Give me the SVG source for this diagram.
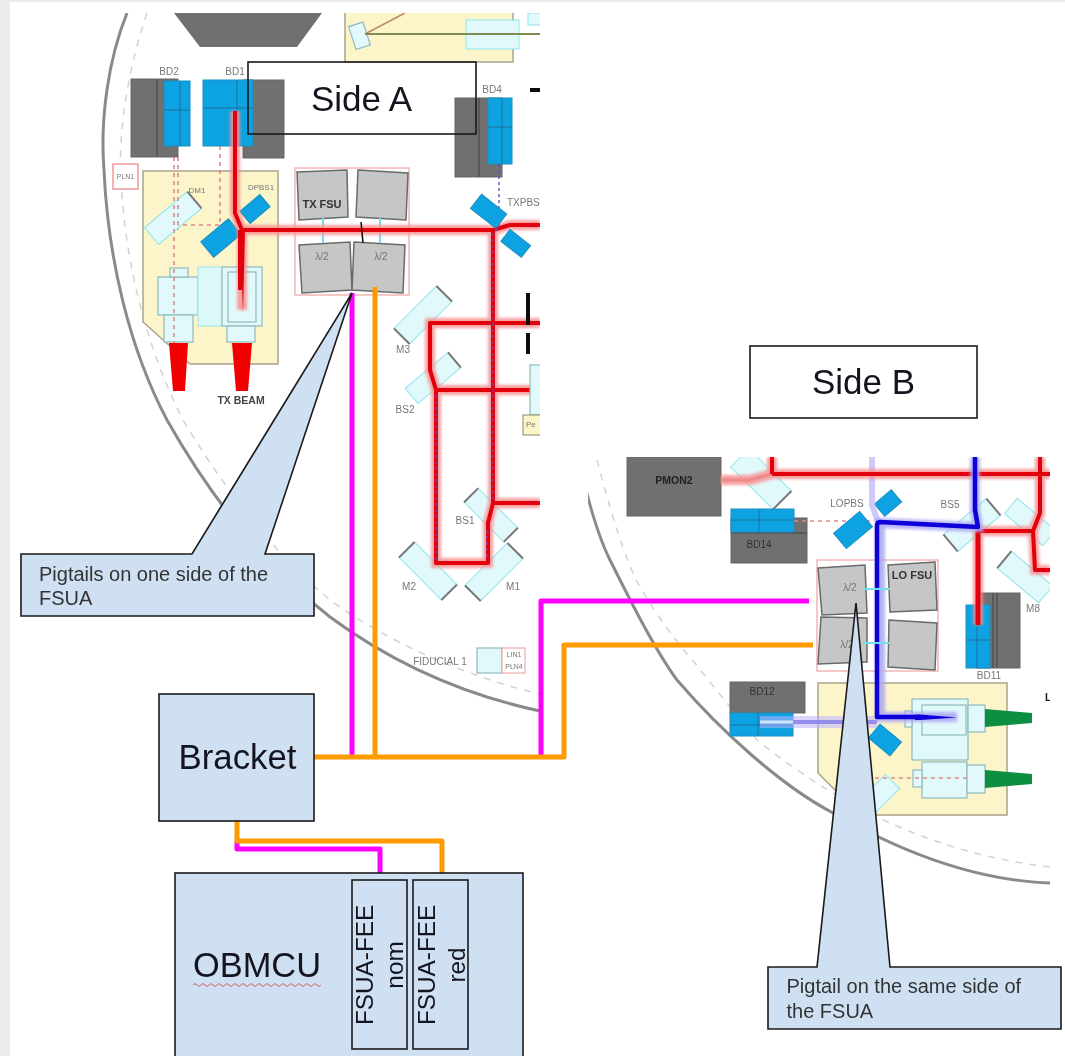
<svg xmlns="http://www.w3.org/2000/svg" width="1065" height="1056" viewBox="0 0 1065 1056">
<style>
.sans{font-family:"Liberation Sans",Arial,sans-serif}
.lb{font-family:"Liberation Sans",Arial,sans-serif;font-size:10px;fill:#777;text-anchor:middle;dominant-baseline:middle}
.lbd{font-family:"Liberation Sans",Arial,sans-serif;font-size:10.5px;font-weight:bold;fill:#444;text-anchor:middle;dominant-baseline:middle}
.dk{fill:#6f6f6f;stroke:#666;stroke-width:1}
.bl{fill:#0aa3e2;stroke:#1b8fc0;stroke-width:1}
.bll{fill:none;stroke:#1a6f9a;stroke-width:1}
.cr{fill:#fdf5ca;stroke:#a8a48c;stroke-width:1.5}
.pc{fill:#e2f9fb;stroke:#8fb9bd;stroke-width:1.2}
.mir{fill:#e2f9fb;stroke:#8ee6ee;stroke-width:1}
.cap{fill:none;stroke:#777;stroke-width:2}
.gy{fill:#c6c6c6;stroke:#6a6a6a;stroke-width:1.5}
.pr{fill:none;stroke:#f3b5b5;stroke-width:1.5}
.cy{fill:none;stroke:#6fe0ea;stroke-width:2}
.gr{fill:none;stroke:#8a8a8a;stroke-width:3}
.ds{fill:none;stroke:#d2d2d2;stroke-width:1.5;stroke-dasharray:7 7}
.rg{fill:none;stroke:#f78f8f;stroke-width:10;opacity:.85;filter:url(#glow)}
.r{fill:none;stroke:#e2000f;stroke-width:4;stroke-linejoin:round}
.bg{fill:none;stroke:#a9a6f5;stroke-width:10;opacity:.85;filter:url(#glow)}
.b{fill:none;stroke:#0a00d8;stroke-width:4.5;stroke-linejoin:round}
.pd{fill:none;stroke:#d88a8a;stroke-width:1.6;stroke-dasharray:4 4}
.bd{fill:none;stroke:#5a50c8;stroke-width:1.4;stroke-dasharray:3 3}
.box{fill:#cfe0f2;stroke:#1a1a1a;stroke-width:1.6}
.out{fill:none;stroke:#1a1a1a;stroke-width:1.6}
.m{fill:none;stroke:#ff00ff;stroke-width:5;stroke-linejoin:round}
.o{fill:none;stroke:#ff9a00;stroke-width:5;stroke-linejoin:round}
.cal{font-size:20px;fill:#333}
.big{fill:#14141e}
</style>
<defs>
<filter id="soft" x="-5%" y="-5%" width="110%" height="110%"><feGaussianBlur stdDeviation="0.7"/></filter>
<filter id="glow" x="-20%" y="-20%" width="140%" height="140%"><feGaussianBlur stdDeviation="1.6"/></filter>
<clipPath id="ca"><rect x="60" y="13" width="480" height="720"/></clipPath>
<clipPath id="cb"><rect x="588" y="457" width="462" height="440"/></clipPath>
</defs>
<rect width="1065" height="1056" fill="#fff"/>
<rect width="10" height="1056" fill="#ececec"/>
<rect width="1065" height="2" fill="#ececec"/>

<g id="side-a-plan" clip-path="url(#ca)"><g filter="url(#soft)">
<path class="gr" d="M127 13C108 60 100 120 104 170C108 260 130 350 167 420C215 505 270 570 330 617C395 665 465 695 540 711"/>
<path class="ds" d="M147 13C128 70 118 130 121 180C125 260 145 345 183 420C225 490 275 555 330 600C385 640 460 675 540 694"/>
<path d="M174 13H322L297 47H200Z" fill="#6f6f6f"/>
<path class="cr" d="M345 13V62H513V13"/>
<g transform="rotate(-18 359 36)"><rect class="pc" x="352" y="24" width="15" height="24"/></g>
<path d="M365 34L405 13" stroke="#b98a70" stroke-width="1.5" fill="none"/>
<rect class="mir" x="466" y="20" width="53" height="29"/>
<path d="M365 34H540" stroke="#7f8a55" stroke-width="2" fill="none"/>
<rect class="mir" x="528" y="13" width="14" height="12"/>
<text class="lb" x="169" y="72">BD2</text><text class="lb" x="235" y="72">BD1</text><text class="lb" x="492" y="90">BD4</text>
<rect class="dk" x="131" y="79" width="47" height="78"/><path d="M157 79V157" stroke="#444" fill="none"/>
<rect class="bl" x="164" y="81" width="26" height="65"/><path class="bll" d="M180 81V146M164 110H190"/>
<rect class="dk" x="243" y="80" width="41" height="78"/>
<rect class="bl" x="203" y="80" width="50" height="66"/><path class="bll" d="M237 80V146M203 108H253"/>
<rect class="dk" x="455" y="98" width="47" height="79"/><path d="M479 98V177" stroke="#444" fill="none"/>
<rect class="bl" x="488" y="98" width="24" height="66"/><path class="bll" d="M502 98V164M488 127H512"/>
<rect x="113" y="164" width="25" height="25" fill="#fff" stroke="#ef9a9a" stroke-width="1.5"/>
<text class="lb" x="125.500" y="177" style="font-size:7px">PLN1</text>
<path class="cr" d="M143 171H278V364H190L143 322Z"/>
<g transform="rotate(-40 173 218)"><rect class="mir" x="145" y="207" width="56" height="22"/><path class="cap" d="M201 207V229"/></g>
<g transform="rotate(-40 221 238)"><rect class="bl" x="203" y="228" width="36" height="20"/></g>
<g transform="rotate(-40 255 209)"><rect class="bl" x="242" y="201" width="26" height="16"/></g>
<text class="lb" x="197" y="191" style="font-size:8px">DM1</text><text class="lb" x="261" y="188" style="font-size:8px">DPBS1</text>
<rect class="pc" x="158" y="277" width="40" height="38"/><rect class="pc" x="170" y="268" width="18" height="9"/><rect class="pc" x="164" y="315" width="29" height="27"/>
<rect x="198" y="267" width="24" height="59" fill="#dcf9f8" stroke="#9eeaea"/>
<rect class="pc" x="222" y="267" width="40" height="59"/><rect class="pc" x="228" y="272" width="28" height="50"/><rect class="pc" x="227" y="326" width="28" height="16"/>
<path d="M169 343H188L185 391H173Z" fill="#f00000"/><path d="M232 343H252L248 391H236Z" fill="#f00000"/>
<text class="lbd" x="241" y="401">TX BEAM</text>
<path class="pd" d="M174 157V343"/><path class="pd" d="M220 146V225H178"/><path class="pd" d="M178 157V230"/>
<rect class="pr" x="295" y="168" width="114" height="127"/>
<path class="gy" d="M297 172L347 170L348 217L299 220Z"/><path class="gy" d="M358 170L408 173L406 220L356 217Z"/>
<path class="gy" d="M299 245L350 242L352 290L302 293Z"/><path class="gy" d="M354 242L405 245L403 293L352 290Z"/>
<path class="cy" d="M323 218V243M380 218V243"/>
<text class="lbd" x="322" y="205" style="font-size:11px;fill:#333">TX FSU</text>
<text class="lb" x="322" y="257">λ/2</text><text class="lb" x="381" y="257">λ/2</text>
<g transform="rotate(-45 423 315)"><rect class="mir" x="393" y="304" width="60" height="22"/><path class="cap" d="M393 304V326M453 304V326"/></g>
<g transform="rotate(-40 433 378)"><rect class="mir" x="405" y="368" width="56" height="20"/><path class="cap" d="M461 368V388"/></g>
<g transform="rotate(45 491 515)"><rect class="mir" x="463" y="505" width="56" height="20"/><path class="cap" d="M463 505V525M519 505V525"/></g>
<g transform="rotate(45 428 571)"><rect class="mir" x="398" y="560" width="60" height="22"/><path class="cap" d="M398 560V582M458 560V582"/></g>
<g transform="rotate(-45 494 572)"><rect class="mir" x="464" y="561" width="60" height="22"/><path class="cap" d="M464 561V583M524 561V583"/></g>
<path class="rg" d="M235 111V213L242 230M242 230V310M242 230H493L510 225H540M493 230V503H540M493 503L488 523V563H436V390L430 370V323H540M436 390H540"/>
<path class="r" d="M235 111V213L242 230H493L510 225H540M493 230V503H540M493 503L488 523V563H436V390L430 370V323H540M436 390H540"/>
<path d="M240 230H245L243 313Z" fill="#e2000f"/>
<path d="M240 230V290" stroke="#e2000f" stroke-width="4" fill="none"/>
<path class="bd" d="M499 164V228L493 232V500M436 395V560M487 530V560"/>
<path d="M361 222L363 243" stroke="#111" stroke-width="1.5"/>
<g transform="rotate(38 488 212)"><rect class="bl" x="472" y="202" width="32" height="18"/></g>
<g transform="rotate(38 516 243)"><rect class="bl" x="503" y="236" width="26" height="15"/></g>
<text class="lb" x="507" y="203" style="text-anchor:start">TXPBS</text>
<text class="lb" x="403" y="350">M3</text><text class="lb" x="405" y="410">BS2</text><text class="lb" x="465" y="521">BS1</text><text class="lb" x="409" y="587">M2</text><text class="lb" x="513" y="587">M1</text>
<rect x="526" y="293" width="4" height="32" fill="#111"/><rect x="526" y="333" width="4" height="21" fill="#111"/><rect x="530" y="88" width="10" height="4" fill="#111"/>
<rect class="pc" x="530" y="365" width="12" height="50"/>
<rect x="523" y="415" width="20" height="20" fill="#fdf5ca" stroke="#8a8a70"/><text class="lb" x="526" y="425" style="text-anchor:start;font-size:8px">Pe</text>
<text class="lb" x="440" y="662">FIDUCIAL 1</text>
<rect class="pc" x="477" y="648" width="25" height="25"/><rect x="502" y="648" width="23" height="25" fill="#fff" stroke="#ef9a9a"/>
<text class="lb" x="514" y="655" style="font-size:7px">LIN1</text><text class="lb" x="514" y="667" style="font-size:7px">PLN4</text>
</g></g>

<g id="side-b-plan" clip-path="url(#cb)"><g filter="url(#soft)">
<path class="gr" d="M586 490C595 525 605 550 610 560C630 600 655 650 677 680C720 730 780 785 833 813C880 840 960 880 1050 883"/>
<path class="ds" d="M597 460C610 510 625 560 640 587C660 620 675 640 690 657C720 695 745 725 757 740C800 775 850 805 890 823C940 845 990 860 1050 867"/>
<path class="cr" d="M818 683H1007V815H860L818 773Z"/>
<rect class="dk" x="627" y="457" width="94" height="59"/><text class="lbd" x="674" y="481" style="fill:#222">PMON2</text>
<g transform="rotate(45 761 479)"><rect class="mir" x="731" y="466" width="60" height="26"/><path class="cap" d="M791 466V492"/></g>
<rect class="dk" x="731" y="518" width="76" height="45"/><path d="M731 533H807" stroke="#444"/>
<rect class="bl" x="731" y="509" width="63" height="23"/><path class="bll" d="M731 520H794M759 509V532"/>
<text class="lb" x="759" y="545" style="fill:#333">BD14</text>
<path class="pd" d="M794 521H873"/>
<g transform="rotate(-40 853 530)"><rect class="bl" x="836" y="520" width="34" height="20"/></g>
<g transform="rotate(-40 888 503)"><rect class="bl" x="877" y="495" width="22" height="16"/></g>
<text class="lb" x="847" y="504">LOPBS</text><text class="lb" x="950" y="505">BS5</text>
<g transform="rotate(-40 972 525)"><rect class="mir" x="944" y="514" width="56" height="22"/><path class="cap" d="M944 514V536M1000 514V536"/></g>
<g transform="rotate(40 1030 522)"><rect class="mir" x="1005" y="512" width="50" height="20"/></g>
<g transform="rotate(40 1025 577)"><rect class="mir" x="998" y="566" width="54" height="22"/><path class="cap" d="M998 566V588"/></g>
<text class="lb" x="1033" y="609">M8</text>
<rect class="pr" x="817" y="560" width="121" height="111"/>
<path class="gy" d="M818 568L865 565L867 613L822 615Z"/><path class="gy" d="M888 565L935 562L937 610L890 612Z"/>
<path class="gy" d="M821 617L867 618L867 662L818 664Z"/><path class="gy" d="M889 620L937 623L935 670L888 667Z"/>
<text class="lb" x="850" y="588">λ/2</text><text class="lb" x="847" y="645">λ/2</text>
<text class="lbd" x="912" y="576" style="font-size:11px;fill:#333">LO FSU</text>
<rect class="dk" x="977" y="593" width="43" height="75"/><path d="M993 593V668M997 593V668" stroke="#444"/>
<rect class="bl" x="966" y="605" width="24" height="63"/><path class="bll" d="M977 605V668M966 640H990"/>
<text class="lb" x="989" y="676">BD11</text>
<rect class="dk" x="730" y="682" width="75" height="31"/><rect class="bl" x="730" y="713" width="63" height="23"/><path class="bll" d="M730 725H793M758 713V736"/>
<text class="lb" x="762" y="692" style="fill:#333">BD12</text>
<g transform="rotate(40 885 740)"><rect class="bl" x="871" y="731" width="28" height="18"/></g>
<g transform="rotate(-45 877 797)"><rect class="mir" x="855" y="787" width="44" height="20"/></g>
<rect class="pc" x="912" y="699" width="56" height="61"/><rect class="pc" x="922" y="705" width="44" height="30"/><rect class="pc" x="968" y="705" width="17" height="27"/><rect class="pc" x="905" y="711" width="7" height="16"/>
<rect class="pc" x="922" y="762" width="45" height="36"/><rect class="pc" x="967" y="765" width="18" height="28"/><rect class="pc" x="913" y="770" width="9" height="17"/>
<path d="M985 709L1032 713V723L985 727Z" fill="#0b8f43"/><path d="M985 770L1032 774V784L985 788Z" fill="#0b8f43"/>
<path class="pd" d="M875 778H970"/>
<path d="M760 722H877" stroke="#b9b3ff" stroke-width="12" opacity=".55" fill="none"/><path d="M760 722H877" stroke="#fff" stroke-width="3" opacity=".7" fill="none"/>
<path d="M793 722H877" stroke="#6f66e6" stroke-width="4" opacity=".7" fill="none"/>
<path d="M872 457V505L878 522" stroke="#cfc9fb" stroke-width="6" fill="none"/>
<path class="rg" d="M721 480H750L772 474H1050M772 457V474M978 530V625M978 531H1033L1040 513V457M1033 531L1035 570H1050"/>
<path d="M721 480H750L772 474" stroke="#f08a8a" stroke-width="3" fill="none"/>
<path class="r" d="M772 474H1050M772 457V474M978 531H1033L1040 513V457M1033 531L1035 570H1050"/>
<path d="M978 531V625" stroke="#e2000f" stroke-width="5" fill="none"/>
<path class="bg" d="M975 457V510L978 527L880 523V717H957"/>
<path class="b" d="M975 457V510L978 527L880 522Q877 522 877 526V717H915"/>
<path d="M915 714.500H920L957 717.500L920 720H915Z" fill="#0a00d8"/>
<path class="cy" d="M863 589H890M863 643H890"/>
<text x="1045" y="701" style="font-size:10.500px;font-weight:bold;fill:#222;font-family:'Liberation Sans',Arial,sans-serif">LO</text>
</g></g>

<g id="connectors">
<path class="o" d="M375 287V757"/>
<path class="m" d="M352 293V757"/>
<path class="m" d="M541 757V601H809"/>
<path class="o" d="M314 757H564V645H813"/>
<path class="m" d="M237 841V849H380V881"/>
<path class="o" d="M237 821V841H442V881"/>
</g>

<g id="side-a"><rect class="out" x="248" y="62" width="228" height="72"/><text class="sans big" x="311" y="111" font-size="35">Side A</text></g>
<g id="side-b"><rect class="out" x="750" y="346" width="227" height="72" fill="#fff"/><text class="sans big" x="812" y="394" font-size="35">Side B</text></g>
<g id="bracket"><rect class="box" x="159" y="694" width="155" height="127"/><text class="sans big" x="178.500" y="769" font-size="34.800">Bracket</text></g>
<g id="obmcu"><rect class="box" x="175" y="873" width="348" height="190"/>
<text class="sans big" x="193" y="977" font-size="34.400">OBMCU</text>
<path d="M193 985q2 -3 4 0t4 0t4 0t4 0t4 0t4 0t4 0t4 0t4 0t4 0t4 0t4 0t4 0t4 0t4 0t4 0t4 0t4 0t4 0t4 0t4 0t4 0t4 0t4 0t4 0t4 0t4 0t4 0t4 0t4 0t4 0t4 0" fill="none" stroke="#d0605f" stroke-width="1"/></g>
<g id="fsua-fee-nom"><rect class="box" x="352" y="880" width="55" height="169"/>
<text class="sans big" transform="translate(373 1025) rotate(-90)" font-size="24.300">FSUA-FEE</text>
<text class="sans big" transform="translate(403 965) rotate(-90)" font-size="24.300" text-anchor="middle">nom</text></g>
<g id="fsua-fee-red"><rect class="box" x="413" y="880" width="55" height="169"/>
<text class="sans big" transform="translate(435 1025) rotate(-90)" font-size="24.300">FSUA-FEE</text>
<text class="sans big" transform="translate(465 965) rotate(-90)" font-size="24.300" text-anchor="middle">red</text></g>
<g id="callout-a"><path class="box" d="M21 554H192L352 293L265 554H314V616H21Z"/>
<text class="sans cal" x="39" y="581">Pigtails on one side of the</text><text class="sans cal" x="39" y="605">FSUA</text></g>
<g id="callout-b"><path class="box" d="M768 967H817L856 603L890 967H1061V1029H768Z"/>
<text class="sans cal" x="786.500" y="993">Pigtail on the same side of</text><text class="sans cal" x="786.500" y="1018">the FSUA</text></g>
</svg>
